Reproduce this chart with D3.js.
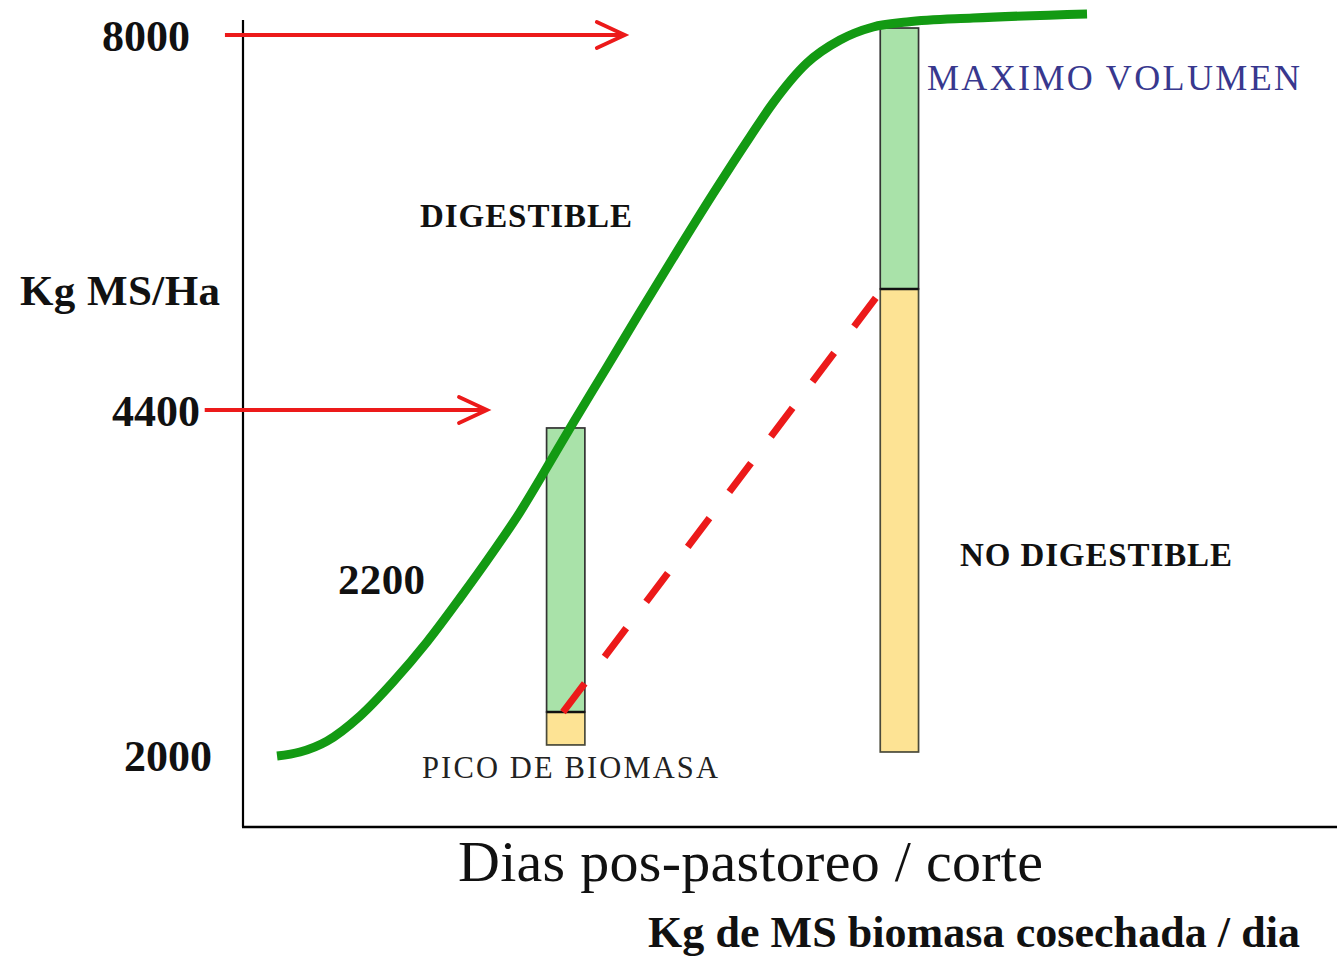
<!DOCTYPE html>
<html>
<head>
<meta charset="utf-8">
<script src="https://cdn.jsdelivr.net/npm/d3@7"></script>
<style>
  html, body { margin: 0; padding: 0; background: #fff; }
  svg { display: block; }
  text { font-family: "Liberation Serif", "Times New Roman", serif; }
</style>
</head>
<body>
<svg id="chart" width="1337" height="957"></svg>
<script>
// ---- data (days after grazing/cut, kg MS/Ha) ----
const curveDays = [3.11, 5.21, 7.68, 10.69, 13.71, 16.82, 19.84, 22.85, 25.32, 27.15, 30.17, 33.27, 36.29, 39.31, 42.96, 46.34, 48.45, 51.55, 54.57, 57.59, 60.7, 66.73, 77.15];
const curveKg   = [1993, 2021, 2097, 2271, 2508, 2786, 3092, 3412, 3690, 3920, 4310, 4813, 5341, 5859, 6474, 7021, 7347, 7731, 7952, 8077, 8125, 8163, 8202];

const barDays        = [29.5, 60.0];
const barDigestTop   = [4275, 8067];
const barSplit       = [2299, 5562];
const barBottom      = [2070, 2021];

const dashFrom = [29.25, 2299];
const dashTo   = [57.9, 5485];

const arrowKg    = [8000, 4400];
const arrowStart = [-1.65, -3.5];
const arrowEnd   = [34.9, 22.3];

const tickValues = [8000, 4400, 2000];
const tickLabels = ["8000", "4400", "2000"];

// ---- scales ----
const svg = d3.select("#chart");
const x = d3.scaleLinear().domain([0, 100]).range([243, 1337]);
const y = d3.scaleLinear().domain([1500, 2000, 4400, 8000]).range([827, 755, 410, 35]);
const barW = 3.5;

// ---- axes ----
svg.append("line").attr("x1", x(0)).attr("x2", x(0)).attr("y1", y(8144)).attr("y2", y(1500))
  .attr("stroke", "#000").attr("stroke-width", 2.2);
svg.append("line").attr("x1", x(0) - 1).attr("x2", x(100)).attr("y1", y(1500)).attr("y2", y(1500))
  .attr("stroke", "#000").attr("stroke-width", 2.5);

// ---- red arrows ----
const red = "#ec1a1a";
arrowKg.forEach((kg, i) => {
  const yy = y(kg), x1 = x(arrowStart[i]), x2 = x(arrowEnd[i]);
  svg.append("line").attr("x1", x1).attr("x2", x2 - 2).attr("y1", yy).attr("y2", yy)
    .attr("stroke", red).attr("stroke-width", 3.8);
  svg.append("path").attr("d", `M${x2 - 28},${yy - 13} L${x2},${yy} L${x2 - 28},${yy + 13}`)
    .attr("fill", "none").attr("stroke", red).attr("stroke-width", 3.8)
    .attr("stroke-linecap", "round").attr("stroke-linejoin", "miter");
});

// ---- bars ----
const green = "#a9e2a9", yellow = "#fde394";
barDays.forEach((d, i) => {
  const x0 = x(d - barW / 2), w = x(d + barW / 2) - x0;
  svg.append("rect").attr("x", x0).attr("y", y(barSplit[i])).attr("width", w)
    .attr("height", y(barBottom[i]) - y(barSplit[i]))
    .attr("fill", yellow).attr("stroke", "#4a4a3a").attr("stroke-width", 1.7);
  svg.append("rect").attr("x", x0).attr("y", y(barDigestTop[i])).attr("width", w)
    .attr("height", y(barSplit[i]) - y(barDigestTop[i]))
    .attr("fill", green).attr("stroke", "#333").attr("stroke-width", 1.7);
  svg.append("line").attr("x1", x0).attr("x2", x0 + w).attr("y1", y(barSplit[i])).attr("y2", y(barSplit[i]))
    .attr("stroke", "#111").attr("stroke-width", 2.6);
});

// ---- dashed red line ----
svg.append("line")
  .attr("x1", x(dashFrom[0])).attr("y1", y(dashFrom[1]))
  .attr("x2", x(dashTo[0])).attr("y2", y(dashTo[1]))
  .attr("stroke", red).attr("stroke-width", 7).attr("stroke-dasharray", "36,33");

// ---- green curve ----
const pts = curveDays.map((d, i) => [x(d), y(curveKg[i])]);
svg.append("path").attr("d", d3.line().curve(d3.curveMonotoneX)(pts))
  .attr("fill", "none").attr("stroke", "#139a13").attr("stroke-width", 9);

// ---- tick labels ----
const tickRight = [190, 200, 212];
tickValues.forEach((v, i) => {
  svg.append("text").attr("x", tickRight[i]).attr("y", y(v) + 16)
    .attr("text-anchor", "end").attr("font-size", 44).attr("font-weight", "bold").attr("fill", "#111")
    .text(tickLabels[i]);
});

// ---- annotations ----
function label(txt, xx, yy, size, weight, fill, len) {
  const t = svg.append("text").attr("x", xx).attr("y", yy).attr("font-size", size)
    .attr("font-weight", weight).attr("fill", fill).text(txt);
  if (len) t.attr("textLength", len).attr("lengthAdjust", "spacing");
}
label("Kg MS/Ha", 20, 305, 43, "bold", "#111", 200);
label("2200", 338, 594, 43, "bold", "#111", 87);
label("DIGESTIBLE", 420, 227, 33, "bold", "#111", 212);
label("NO DIGESTIBLE", 960, 566, 33, "bold", "#111", 272);
label("MAXIMO VOLUMEN", 927, 90, 36, "normal", "#38388e", 373);
label("PICO DE BIOMASA", 422, 778, 30.5, "normal", "#222", 296);
label("Dias pos-pastoreo / corte", 458, 881, 58, "normal", "#111", 585);
label("Kg de MS biomasa cosechada / dia", 648, 947, 44, "bold", "#111", 652);
</script>
</body>
</html>
